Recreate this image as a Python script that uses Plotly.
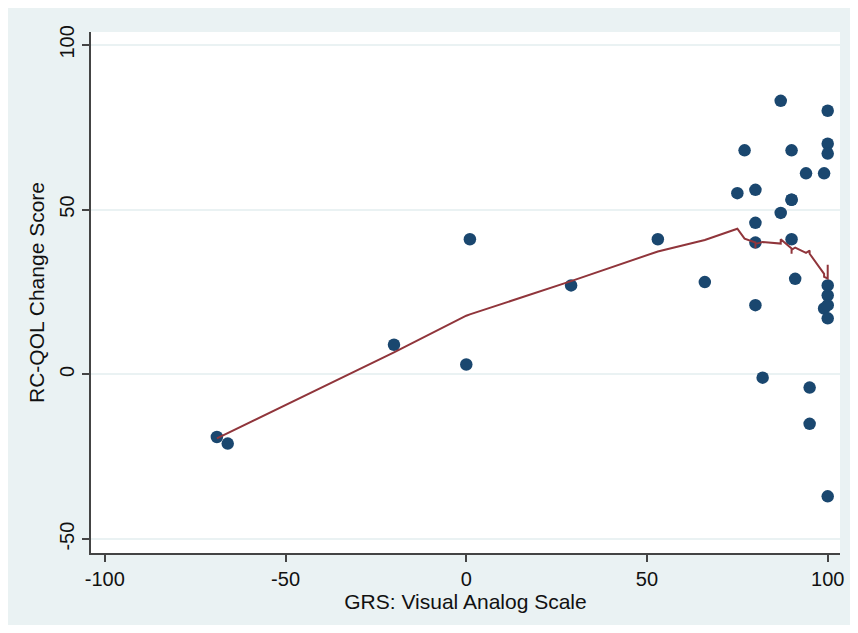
import plotly.graph_objects as go

# Scatter data (GRS visual analog scale vs RC-QOL change score)
grs = [-69, -66, -20, 0, 1, 29, 53, 66, 75, 77, 80, 80, 80, 80, 82, 87, 87,
       90, 90, 90, 90, 91, 94, 95, 95, 99, 99, 100, 100, 100, 100, 100, 100, 100, 100]
rcqol = [-19, -21, 9, 3, 41, 27, 41, 28, 55, 68, 56, 46, 40, 21, -1, 83, 49,
         68, 53, 53, 41, 29, 61, -4, -15, 61, 20, 80, 70, 67, 27, 24, 21, 17, -37]

# Lowess smoother vertices
lowess_x = [-69, -66, -20, 0, 1, 29, 53, 66, 75, 77, 80, 80, 80, 80, 82, 87, 87,
            90, 90, 90, 90, 91, 94, 95, 95, 99, 99, 100, 100, 100]
lowess_y = [-19.4, -17.8, 6.7, 17.8, 18.2, 28.3, 37.3, 40.8, 44.2, 41.2, 40.0, 39.2, 38.3, 39.6,
            40.2, 39.7, 41.0, 38.2, 37.6, 36.6, 37.8, 38.5, 36.9, 37.6, 36.6, 30.5, 29.6, 29.1, 33.3, 32.6]

xticks = [-100, -50, 0, 50, 100]
xticklabels = ["-100", "-50", "0", "50", "100"]
yticks = [-50, 0, 50, 100]
yticklabels = ["-50", "0", "50", "100"]

NAVY = "#1a476f"
MAROON = "#90353b"
BG = "#eaf2f3"
AX = "#444444"

fig = go.Figure()
fig.add_trace(go.Scatter(x=grs, y=rcqol, mode="markers",
                         marker=dict(color=NAVY, size=12.5, line=dict(width=0)),
                         showlegend=False))
fig.add_trace(go.Scatter(x=lowess_x, y=lowess_y, mode="lines",
                         line=dict(color=MAROON, width=2),
                         showlegend=False))

tickfont = dict(family="Liberation Sans, Arial, sans-serif", size=20, color="#111111")
titlefont = dict(family="Liberation Sans, Arial, sans-serif", size=21, color="#111111")

fig.update_layout(
    width=842, height=617,
    margin=dict(l=83, r=6, t=24, b=72),
    paper_bgcolor=BG,
    plot_bgcolor="white",
    font=tickfont,
    xaxis=dict(range=[-103.83, 103.4], tickvals=xticks, ticktext=xticklabels,
               ticks="outside", ticklen=7,
               tickwidth=1.5, tickcolor=AX, showline=True, linecolor=AX, linewidth=1.5,
               showgrid=False, zeroline=False,
               title=dict(text="GRS: Visual Analog Scale", standoff=4, font=titlefont),
               tickfont=tickfont),
    yaxis=dict(range=[-54.2, 103.9], tickvals=yticks, ticktext=yticklabels,
               ticks="outside", ticklen=7,
               tickwidth=1.5, tickcolor=AX, showline=True, linecolor=AX, linewidth=1.5,
               showgrid=True, gridcolor=BG, gridwidth=1.5, zeroline=False,
               tickangle=-90,
               title=dict(text="RC-QOL Change Score", standoff=6, font=titlefont),
               tickfont=tickfont),
)

fig.write_html("out.html")
